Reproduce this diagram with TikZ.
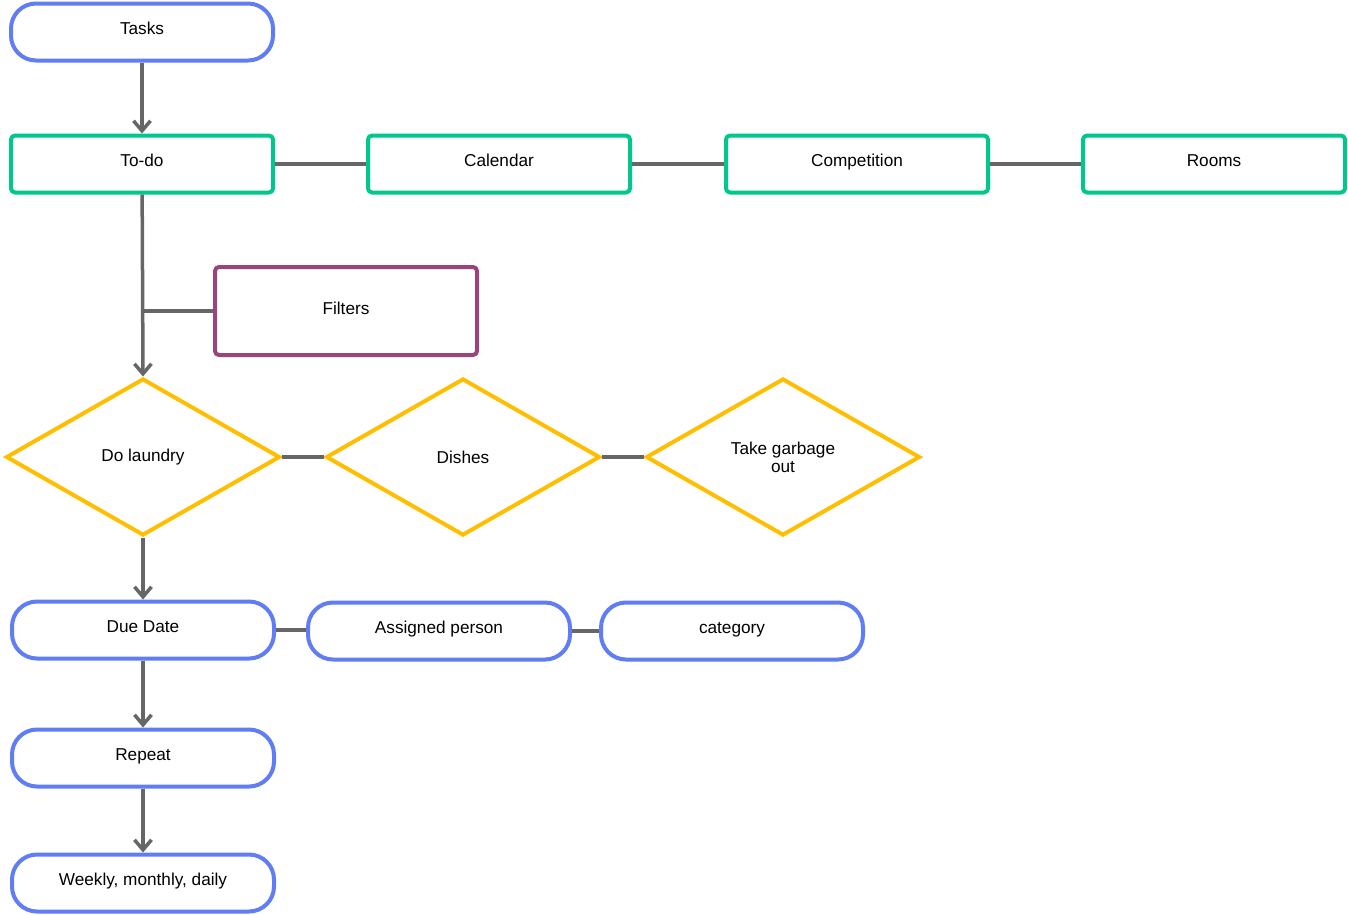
\documentclass[tikz,border=0pt]{standalone}
\usepackage{fontspec}
\setmainfont{Liberation Sans}
\usetikzlibrary{shapes.geometric,arrows.meta}
\definecolor{termblue}{RGB}{96,125,245}
\definecolor{pagegreen}{RGB}{0,200,140}
\definecolor{filterpurple}{RGB}{153,68,124}
\definecolor{choiceyellow}{RGB}{255,190,0}
\definecolor{linkgray}{RGB}{102,102,102}
\begin{document}
\begin{tikzpicture}[x=1pt,y=-1pt,line join=round,>={Straight Barb[length=10pt,width=17pt]},
		font=\fontsize{17.2}{18}\selectfont,
		term/.style={draw=termblue,line width=4pt,rounded corners=25pt,minimum width=262pt,minimum height=57pt,text height=12.5pt,text depth=7pt,fill=white},
		page/.style={draw=pagegreen,line width=4pt,rounded corners=4pt,minimum width=262pt,minimum height=57pt,text height=12.5pt,text depth=7pt},
		filterbox/.style={draw=filterpurple,line width=4pt,rounded corners=4pt,minimum width=262pt,minimum height=88pt,text height=12.5pt,text depth=6pt},
		choice/.style={diamond,draw=choiceyellow,line width=4pt,line join=miter,aspect=1.74,minimum width=274pt,minimum height=157pt,inner sep=0pt,align=center},
		link/.style={draw=linkgray,line width=3.5pt}]
	\useasboundingbox (0,0) rectangle (1348,914);
	% top row
	\node [term] (tasks) at (142,32) {Tasks};
	\node [page] (todo) at (142,164) {To-do};
	\node [page] (calendar) at (499,164) {Calendar};
	\node [page] (competition) at (857,164) {Competition};
	\node [page] (rooms) at (1214,164) {Rooms};
	\node [filterbox] (filters) at (346,311) {Filters};
	% chores
	\node [choice] (laundry) at (143,457) {Do laundry};
	\node [choice] (dishes) at (463,457) {Dishes};
	\node [choice] (garbage) at (783,457) {Take garbage\\out};
	% details
	\node [term] (due) at (143,630) {Due Date};
	\node [term] (person) at (439,631) {Assigned person};
	\node [term] (category) at (732,631) {category};
	\node [term] (repeat) at (143,758) {Repeat};
	\node [term] (weekly) at (143,883) {Weekly, monthly, daily};
	\draw [link,->] (tasks) -- (todo);
	\draw [link] (todo) -- (calendar);
	\draw [link] (calendar) -- (competition);
	\draw [link] (competition) -- (rooms);
	\draw [link,->] (todo) -- (laundry.north);
	\draw [link] (filters.west) -- (filters.west -| todo.south);
	\draw [link] (laundry.east) -- (dishes.west);
	\draw [link] (dishes.east) -- (garbage.west);
	\draw [link,->] (laundry.south) -- (due);
	\draw [link] (due.east) -- (due.east -| person.west);
	\draw [link] (person) -- (category);
	\draw [link,->] (due) -- (repeat);
	\draw [link,->] (repeat) -- (weekly);
\end{tikzpicture}
\end{document}
